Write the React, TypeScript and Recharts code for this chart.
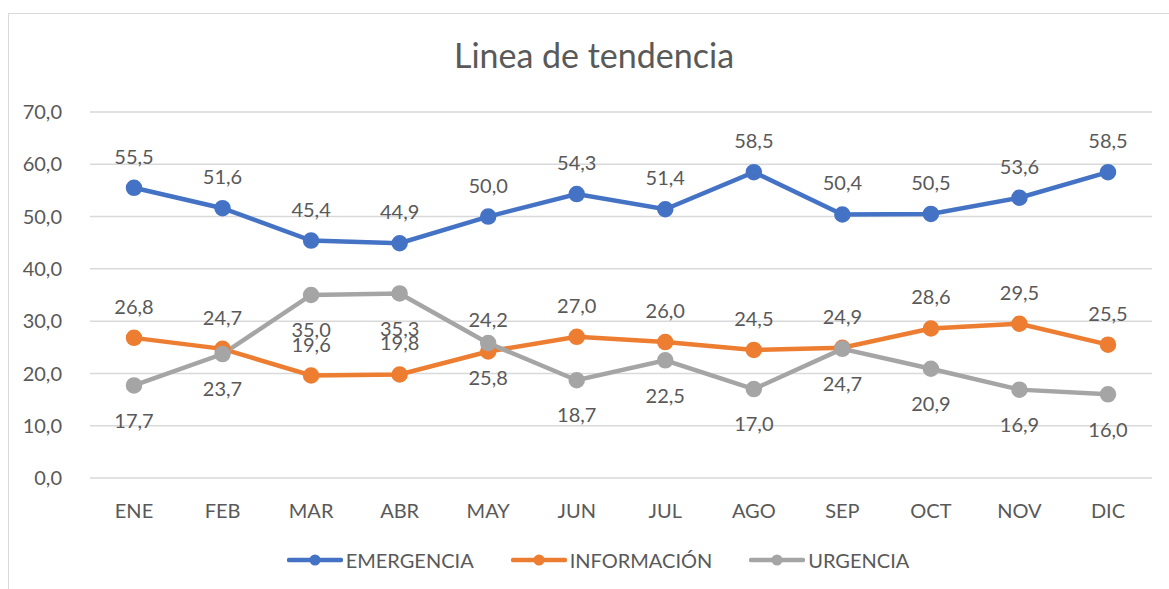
import { LineChart, Line, XAxis, YAxis, CartesianGrid, Legend, LabelList } from 'recharts';

const months = ['ENE', 'FEB', 'MAR', 'ABR', 'MAY', 'JUN', 'JUL', 'AGO', 'SEP', 'OCT', 'NOV', 'DIC'];
const emergencia = [55.5, 51.6, 45.4, 44.9, 50.0, 54.3, 51.4, 58.5, 50.4, 50.5, 53.6, 58.5];
const informacion = [26.8, 24.7, 19.6, 19.8, 24.2, 27.0, 26.0, 24.5, 24.9, 28.6, 29.5, 25.5];
const urgencia = [17.7, 23.7, 35.0, 35.3, 25.8, 18.7, 22.5, 17.0, 24.7, 20.9, 16.9, 16.0];
const yTicks = [0, 10, 20, 30, 40, 50, 60, 70];

const data = months.map((m, i) => ({
  mes: m,
  EMERGENCIA: emergencia[i],
  'INFORMACIÓN': informacion[i],
  URGENCIA: urgencia[i],
}));

const FONT = 'Lato, "Open Sans", sans-serif';
const TEXT = '#595959';
const fmt = (v: any) => Number(v).toFixed(1).replace('.', ',');

// leyenda con linea + marcador redondo como en Excel
function LegendLines(props: any) {
  const items = props.payload || [];
  return (
    <div style={{ display: 'flex', justifyContent: 'center', gap: 37, fontFamily: FONT, fontSize: 20, color: TEXT, paddingLeft: 44 }}>
      {items.map((it: any) => (
        <div key={it.value} style={{ display: 'flex', alignItems: 'center' }}>
          <svg width={56} height={14} style={{ marginRight: 3 }}>
            <line x1={2} y1={7} x2={54} y2={7} stroke={it.color} strokeWidth={4.5} strokeLinecap="round" />
            <circle cx={28} cy={7} r={5.5} fill={it.color} />
          </svg>
          <span>{it.value}</span>
        </div>
      ))}
    </div>
  );
}

export default function App() {
  return (
    <div style={{ position: 'absolute', left: 0, top: 0, width: 1169, height: 589, background: '#fff', fontFamily: FONT, overflow: 'hidden' }}>
      <div style={{ position: 'absolute', left: 8, top: 13, width: 1200, height: 620, border: '1px solid #d9d9d9' }} />
      <div style={{ position: 'absolute', left: 0, width: 1188, top: 34, textAlign: 'center', fontSize: 34, color: TEXT }}>
        Linea de tendencia
      </div>
      <LineChart
        width={1169}
        height={589}
        data={data}
        margin={{ top: 112, right: 17, left: 0, bottom: 37 }}
        style={{ position: 'absolute', left: 0, top: 0 }}
      >
        <CartesianGrid vertical={false} stroke="#d9d9d9" strokeWidth={1.5} />
        <XAxis
          dataKey="mes"
          axisLine={false}
          tickLine={false}
          padding={{ left: 44, right: 44 }}
          tick={{ fill: TEXT, fontSize: 20, fontFamily: FONT }}
          tickMargin={20}
          height={50}
        />
        <YAxis
          domain={[0, 70]}
          ticks={yTicks}
          axisLine={false}
          tickLine={false}
          tickFormatter={fmt}
          tick={{ fill: TEXT, fontSize: 20, fontFamily: FONT }}
          width={90}
          tickMargin={22}
        />
        <Legend verticalAlign="bottom" content={<LegendLines />} wrapperStyle={{ bottom: 17 }} />
        <Line dataKey="EMERGENCIA" stroke="#4472C4" strokeWidth={4.5} dot={{ r: 6, fill: '#4472C4', stroke: '#4472C4' }} isAnimationActive={false}>
          <LabelList dataKey="EMERGENCIA" position="top" offset={24} formatter={fmt} fill={TEXT} fontSize={20} fontFamily={FONT} />
        </Line>
        <Line dataKey="INFORMACIÓN" stroke="#ED7D31" strokeWidth={4.5} dot={{ r: 6, fill: '#ED7D31', stroke: '#ED7D31' }} isAnimationActive={false}>
          <LabelList dataKey="INFORMACIÓN" position="top" offset={24} formatter={fmt} fill={TEXT} fontSize={20} fontFamily={FONT} />
        </Line>
        <Line dataKey="URGENCIA" stroke="#A5A5A5" strokeWidth={4.5} dot={{ r: 6, fill: '#A5A5A5', stroke: '#A5A5A5' }} isAnimationActive={false}>
          <LabelList dataKey="URGENCIA" position="bottom" offset={28} formatter={fmt} fill={TEXT} fontSize={20} fontFamily={FONT} />
        </Line>
      </LineChart>
    </div>
  );
}
